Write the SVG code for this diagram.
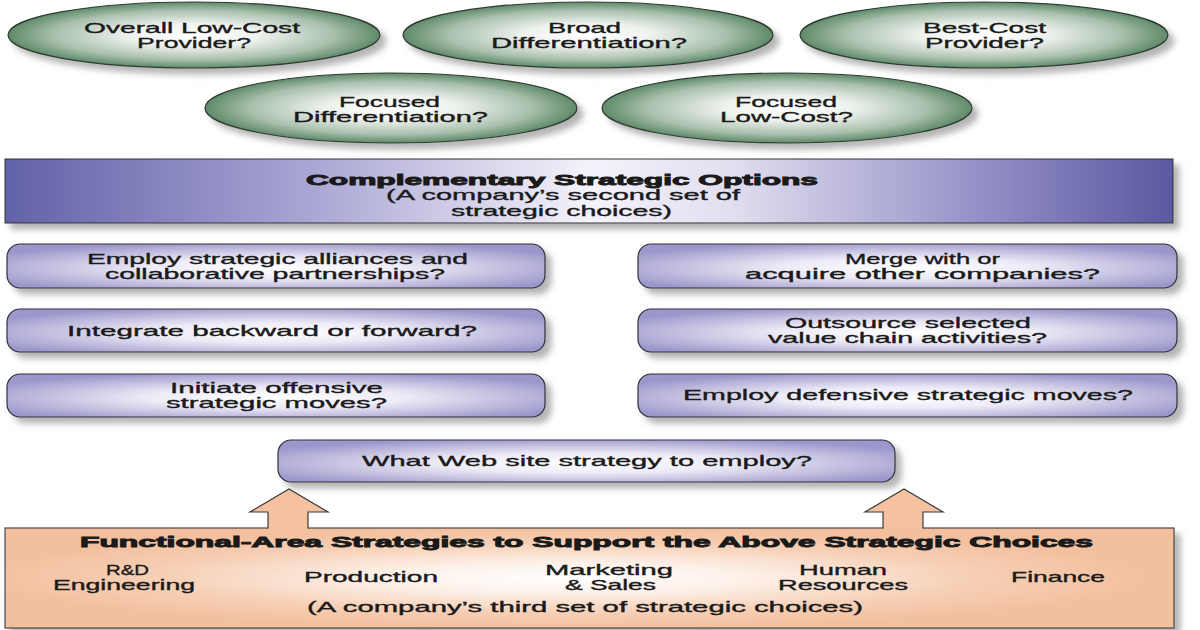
<svg xmlns="http://www.w3.org/2000/svg" width="1200" height="630" viewBox="0 0 1200 630">
<defs>
<radialGradient id="gGreen" cx="0.5" cy="0.5" r="0.5">
<stop offset="0" stop-color="#ffffff"/>
<stop offset="0.35" stop-color="#eef2ee"/>
<stop offset="0.75" stop-color="#a9c0ad"/>
<stop offset="1" stop-color="#5f8a69"/>
</radialGradient>
<linearGradient id="gBand" x1="0" y1="0" x2="1" y2="0">
<stop offset="0" stop-color="#6262a8"/>
<stop offset="0.25" stop-color="#a6a2d2"/>
<stop offset="0.5" stop-color="#f4f2fa"/>
<stop offset="0.62" stop-color="#e2dff0"/>
<stop offset="0.85" stop-color="#8e8bc4"/>
<stop offset="1" stop-color="#5a58a0"/>
</linearGradient>
<radialGradient id="gBox" cx="0.5" cy="0.55" r="0.6">
<stop offset="0" stop-color="#ffffff"/>
<stop offset="0.4" stop-color="#eceaf6"/>
<stop offset="1" stop-color="#9c97cb"/>
</radialGradient>
<radialGradient id="gPeach" cx="0.48" cy="0.5" r="0.5">
<stop offset="0" stop-color="#ffffff"/>
<stop offset="0.3" stop-color="#fdf1e9"/>
<stop offset="0.7" stop-color="#f6cfb5"/>
<stop offset="1" stop-color="#f3c09f"/>
</radialGradient>
<filter id="sh" x="-5%" y="-20%" width="115%" height="160%">
<feDropShadow dx="6" dy="6" stdDeviation="3" flood-color="#777" flood-opacity="0.55"/>
</filter>
<style>
.ell{fill:url(#gGreen);stroke:#2e3a30;stroke-width:1.2;filter:url(#sh)}
.box{fill:url(#gBox);stroke:#2f2f3a;stroke-width:1.2;filter:url(#sh)}
.band{fill:url(#gBand);stroke:#333;stroke-width:1;filter:url(#sh)}
.peach{fill:url(#gPeach);stroke:#4a4a4a;stroke-width:1.2;filter:url(#sh)}
text{font-family:"Liberation Sans",Arial,sans-serif;font-size:15px;fill:#1a1a1a;stroke:#1a1a1a;stroke-width:0.35}
.b{font-weight:bold;stroke-width:0.9}
.arrowFill{fill:#f5c1a0;stroke:none}
.arrowLine{fill:none;stroke:#3a3a3a;stroke-width:1.2;stroke-linejoin:miter}
</style>
</defs>
<rect width="1200" height="630" fill="#ffffff"/>

<g id="overall-low-cost">
<ellipse class="ell" cx="194" cy="35" rx="186" ry="33"/>
<text x="84" y="32.5" textLength="216" lengthAdjust="spacingAndGlyphs">Overall Low-Cost</text>
<text x="137" y="47.5" textLength="114" lengthAdjust="spacingAndGlyphs">Provider?</text>
</g>
<g id="broad-differentiation">
<ellipse class="ell" cx="588" cy="35" rx="185" ry="33"/>
<text x="548" y="32.5" textLength="73" lengthAdjust="spacingAndGlyphs">Broad</text>
<text x="491" y="47.5" textLength="196" lengthAdjust="spacingAndGlyphs">Differentiation?</text>
</g>
<g id="best-cost-provider">
<ellipse class="ell" cx="984" cy="35" rx="184" ry="33"/>
<text x="923" y="32.5" textLength="123" lengthAdjust="spacingAndGlyphs">Best-Cost</text>
<text x="925" y="47.5" textLength="119" lengthAdjust="spacingAndGlyphs">Provider?</text>
</g>
<g id="focused-differentiation">
<ellipse class="ell" cx="391" cy="108" rx="186" ry="35"/>
<text x="339" y="107" textLength="101" lengthAdjust="spacingAndGlyphs">Focused</text>
<text x="293" y="122" textLength="195" lengthAdjust="spacingAndGlyphs">Differentiation?</text>
</g>
<g id="focused-low-cost">
<ellipse class="ell" cx="787" cy="108" rx="185" ry="35"/>
<text x="735" y="107" textLength="102" lengthAdjust="spacingAndGlyphs">Focused</text>
<text x="720" y="122" textLength="133" lengthAdjust="spacingAndGlyphs">Low-Cost?</text>
</g>

<g id="complementary-options">
<rect class="band" x="5" y="159" width="1168" height="64"/>
<text class="b" x="306" y="185" textLength="512" lengthAdjust="spacingAndGlyphs">Complementary Strategic Options</text>
<text x="386" y="200" textLength="354" lengthAdjust="spacingAndGlyphs">(A company’s second set of</text>
<text x="451" y="216" textLength="221" lengthAdjust="spacingAndGlyphs">strategic choices)</text>
</g>

<g id="alliances">
<rect class="box" x="7" y="244" width="538" height="44" rx="13"/>
<text x="87" y="264" textLength="381" lengthAdjust="spacingAndGlyphs">Employ strategic alliances and</text>
<text x="105" y="279" textLength="340" lengthAdjust="spacingAndGlyphs">collaborative partnerships?</text>
</g>
<g id="integrate">
<rect class="box" x="7" y="309" width="538" height="43" rx="13"/>
<text x="67" y="336" textLength="410" lengthAdjust="spacingAndGlyphs">Integrate backward or forward?</text>
</g>
<g id="offensive">
<rect class="box" x="7" y="374" width="538" height="43" rx="13"/>
<text x="170" y="393" textLength="213" lengthAdjust="spacingAndGlyphs">Initiate offensive</text>
<text x="166" y="408" textLength="221" lengthAdjust="spacingAndGlyphs">strategic moves?</text>
</g>
<g id="merge">
<rect class="box" x="638" y="244" width="539" height="44" rx="13"/>
<text x="845" y="264" textLength="155" lengthAdjust="spacingAndGlyphs">Merge with or</text>
<text x="745" y="279" textLength="355" lengthAdjust="spacingAndGlyphs">acquire other companies?</text>
</g>
<g id="outsource">
<rect class="box" x="638" y="309" width="539" height="43" rx="13"/>
<text x="785" y="328" textLength="246" lengthAdjust="spacingAndGlyphs">Outsource selected</text>
<text x="768" y="343" textLength="279" lengthAdjust="spacingAndGlyphs">value chain activities?</text>
</g>
<g id="defensive">
<rect class="box" x="638" y="374" width="539" height="43" rx="13"/>
<text x="683" y="400" textLength="450" lengthAdjust="spacingAndGlyphs">Employ defensive strategic moves?</text>
</g>
<g id="web-strategy">
<rect class="box" x="278" y="440" width="617" height="42" rx="13"/>
<text x="362" y="466" textLength="450" lengthAdjust="spacingAndGlyphs">What Web site strategy to employ?</text>
</g>

<g id="functional-area">
<rect class="peach" x="5" y="528" width="1169" height="100"/>
<text class="b" x="80" y="547" textLength="1013" lengthAdjust="spacingAndGlyphs">Functional-Area Strategies to Support the Above Strategic Choices</text>
<text x="106" y="575" textLength="43" lengthAdjust="spacingAndGlyphs">R&amp;D</text>
<text x="53" y="590" textLength="142" lengthAdjust="spacingAndGlyphs">Engineering</text>
<text x="304" y="582" textLength="134" lengthAdjust="spacingAndGlyphs">Production</text>
<text x="545" y="575" textLength="128" lengthAdjust="spacingAndGlyphs">Marketing</text>
<text x="565" y="590" textLength="91" lengthAdjust="spacingAndGlyphs">&amp; Sales</text>
<text x="799" y="575" textLength="88" lengthAdjust="spacingAndGlyphs">Human</text>
<text x="778" y="590" textLength="130" lengthAdjust="spacingAndGlyphs">Resources</text>
<text x="1011" y="582" textLength="94" lengthAdjust="spacingAndGlyphs">Finance</text>
<text x="307" y="612" textLength="556" lengthAdjust="spacingAndGlyphs">(A company’s third set of strategic choices)</text>
</g>

<g id="connectors">
<path class="arrowFill" d="M268,529.5 L268,512 L250,512 L289,489 L328,512 L308,512 L308,529.5 Z"/>
<path class="arrowLine" d="M268,528.6 L268,512 L250,512 L289,489 L328,512 L308,512 L308,528.6"/>
<path class="arrowFill" d="M883,529.5 L883,512 L865,512 L904,489 L943,512 L923,512 L923,529.5 Z"/>
<path class="arrowLine" d="M883,528.6 L883,512 L865,512 L904,489 L943,512 L923,512 L923,528.6"/>
</g>
</svg>
